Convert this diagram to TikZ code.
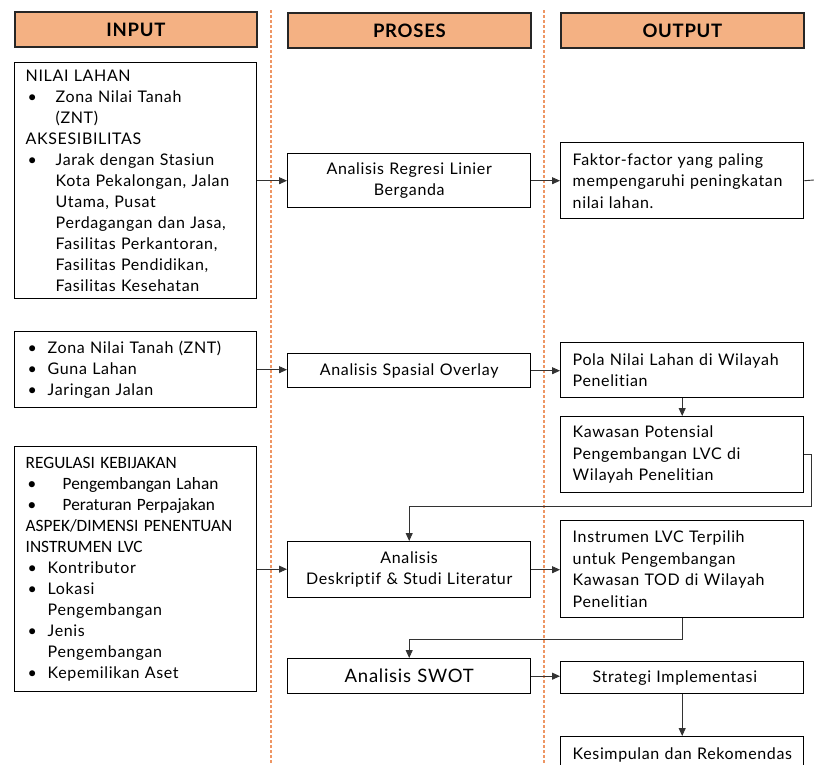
\documentclass[tikz,border=0pt]{standalone}
\usepackage{fontspec}
\setmainfont{Lato}[LetterSpace=4,Ligatures=CommonOff]
\newfontfamily\calfont{Carlito}
\usetikzlibrary{arrows.meta}
\definecolor{hdrfill}{RGB}{244,177,131}
\definecolor{sepcol}{RGB}{238,150,100}
\newcommand\bul[1][30pt]{\makebox[#1][l]{\hspace{2pt}\textbullet}}
\newcommand\ind[1][30pt]{\hspace*{#1}}
\newcommand\calline{\calfont\fontsize{17.3}{21}\selectfont}
\begin{document}
\begin{tikzpicture}[x=1pt,y=-1pt,
  hdrbox/.style={draw=black!85, line width=1.8pt, fill=hdrfill, anchor=north west,
    minimum width=242pt, minimum height=35pt, inner sep=0pt,
    font=\fontsize{18.5}{20}\selectfont\bfseries},
  inbox/.style={draw=black, line width=1.4pt, anchor=north west, inner xsep=11pt, inner ysep=0pt,
    text width=220pt, align=left, minimum width=242pt,
    font=\fontsize{16}{21}\selectfont},
  prbox/.style={draw=black, line width=1.4pt, anchor=north west, inner xsep=6pt, inner ysep=0pt,
    text width=231pt, align=center, minimum width=243pt,
    font=\fontsize{16}{21}\selectfont},
  outbox/.style={draw=black, line width=1.4pt, anchor=north west, inner xsep=12pt, inner ysep=0pt,
    text width=219pt, align=left, minimum width=243pt,
    font=\fontsize{16}{21.5}\selectfont},
  sepline/.style={draw=sepcol, line width=1.3pt, dash pattern=on 3pt off 2pt},
  conn/.style={draw=black!80, line width=0.9pt},
  arr/.style={conn, -{Triangle[length=8pt,width=7pt]}}
]
\useasboundingbox (0,0) rectangle (814,764);
\fill[white] (0,0) rectangle (814,764);

% separators
\draw[sepline] (271,10) -- (271,764);
\draw[sepline] (544,10) -- (544,764);

% headers
\node[hdrbox] (hin) at (14,11) {INPUT};
\node[hdrbox, minimum width=243pt] (hpr) at (287,12) {PROSES};
\node[hdrbox, minimum width=243pt] (hout) at (560,12) {OUTPUT};

% input boxes
\node[inbox, minimum height=236pt] (in1) at (14,62) {%
NILAI LAHAN\\
\bul Zona Nilai Tanah\\
\ind (ZNT)\\
AKSESIBILITAS\\
\bul Jarak dengan Stasiun\\
\ind Kota Pekalongan, Jalan\\
\ind Utama, Pusat\\
\ind Perdagangan dan Jasa,\\
\ind Fasilitas Perkantoran,\\
\ind Fasilitas Pendidikan,\\
\ind Fasilitas Kesehatan};

\node[inbox, minimum height=76pt] (in2) at (14,331) {%
\bul[22pt]Zona Nilai Tanah (ZNT)\\
\bul[22pt]Guna Lahan\\
\bul[22pt]Jaringan Jalan};

\node[inbox, minimum height=245pt] (in3) at (14,446) {%
{\calline REGULASI KEBIJAKAN}\\
{\calline\bul[37pt]Pengembangan Lahan}\\
{\calline\bul[37pt]Peraturan Perpajakan}\\
{\calline ASPEK/DIMENSI PENENTUAN}\\
{\calline INSTRUMEN LVC}\\
\bul[22pt]Kontributor\\
\bul[22pt]Lokasi\\
\ind[22pt]Pengembangan\\
\bul[22pt]Jenis\\
\ind[22pt]Pengembangan\\
\bul[22pt]Kepemilikan Aset};

% process boxes
\node[prbox, minimum height=54pt] (pr1) at (287,153) {Analisis Regresi Linier\\Berganda};
\node[prbox, minimum height=34pt] (pr2) at (287,353) {Analisis Spasial Overlay};
\node[prbox, minimum height=56pt] (pr3) at (287,541) {Analisis\\Deskriptif \& Studi Literatur};
\node[prbox, minimum height=35pt, font=\fontsize{18.5}{22}\selectfont] (pr4) at (287,658) {Analisis SWOT};

% output boxes
\node[outbox, minimum height=76pt] (out1) at (560,142) {Faktor-factor yang paling\\mempengaruhi peningkatan\\nilai lahan.};
\node[outbox, minimum height=55pt] (out2) at (560,342) {Pola Nilai Lahan di Wilayah\\Penelitian};
\node[outbox, minimum height=76pt] (out3) at (560,416) {Kawasan Potensial\\Pengembangan LVC di\\Wilayah Penelitian};
\node[outbox, minimum height=97pt] (out4) at (560,520) {Instrumen LVC Terpilih\\untuk Pengembangan\\Kawasan TOD di Wilayah\\Penelitian};
\node[outbox, minimum height=32pt] (out5) at (560,661) {\hspace*{20pt}Strategi Implementasi};
\node[outbox, minimum height=36pt] (out6) at (560,736) {Kesimpulan dan Rekomendas};

% connectors
\coordinate (edge1) at (814,180);
\coordinate (k1) at (811,506);
\draw[arr] (in1.east) -- (pr1.west);
\draw[arr] (pr1.east) -- (out1.west);
\draw[conn] (out1.east) -- (edge1);
\draw[arr] (in2.east) -- (in2.east -| pr2.west);
\draw[arr] (pr2.east) -- (pr2.east -| out2.west);
\draw[arr] (out2.south) -- (out3.north);
\draw[arr] (out3.east) -| (k1) -| (pr3.north);
\draw[arr] (in3.east) -- (in3.east -| pr3.west);
\draw[arr] (pr3.east) -- (pr3.east -| out4.west);
\draw[arr] (out4.south) -- ++(0,21) -| (pr4.north);
\draw[arr] (pr4.east) -- (pr4.east -| out5.west);
\draw[arr] (out5.south) -- (out6.north);
\end{tikzpicture}
\end{document}
